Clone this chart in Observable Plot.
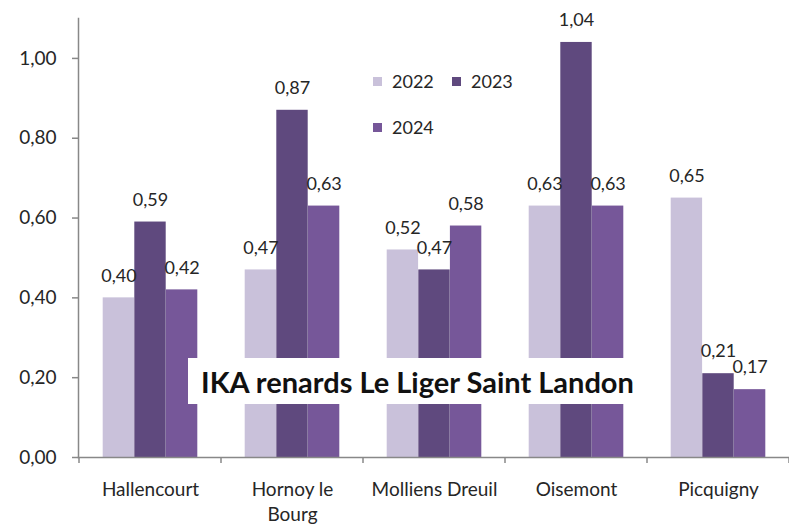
<!DOCTYPE html>
<html>
<head>
<meta charset="utf-8">
<script src="https://cdn.jsdelivr.net/npm/d3@7"></script>
<script src="https://cdn.jsdelivr.net/npm/@observablehq/plot@0.6"></script>
<style>
  html, body { margin: 0; padding: 0; background: white; }
  #wrap { position: relative; width: 789px; height: 524px; font-family: Lato, sans-serif; color: #262626; }
  #legend { position: absolute; left: 0; top: 0; }
  .li { position: absolute; display: flex; align-items: center; font-size: 18px; }
  .sw { width: 9px; height: 9px; margin-right: 10px; }
  #title { position: absolute; left: 188px; top: 358px; width: 459px; height: 46px; background: white;
           display: flex; align-items: center; justify-content: center; font-weight: bold; font-size: 29px; color: #111; }
</style>
</head>
<body>
<div id="wrap"></div>
<script>
const categories = ["Hallencourt", "Hornoy le Bourg", "Molliens Dreuil", "Oisemont", "Picquigny"];
const categoryLabels = ["Hallencourt", "Hornoy le\nBourg", "Molliens Dreuil", "Oisemont", "Picquigny"];
const years = ["2022", "2023", "2024"];
const values2022 = [0.40, 0.47, 0.52, 0.63, 0.65];
const values2023 = [0.59, 0.87, 0.47, 1.04, 0.21];
const values2024 = [0.42, 0.63, 0.58, 0.63, 0.17];
const yTicks = [0, 0.2, 0.4, 0.6, 0.8, 1.0];
const colors = ["#c9c1da", "#5f497e", "#765799"];
const titleText = "IKA renards Le Liger Saint Landon";

const seriesValues = [values2022, values2023, values2024];
const fmt = v => v.toFixed(2).replace(".", ",");
const labelOf = new Map(categories.map((c, i) => [c, categoryLabels[i]]));

const W = 789, H = 524, ML = 78, MR = 0, MT = 18, MB = 67;
const bw = (W - ML - MR) / categories.length;
const barW = 31.6;
const outer = (bw - 3 * barW) / 2;

const barMarks = [];
const textMarks = [];
years.forEach((yr, k) => {
  const rows = categories.map((c, i) => ({cat: c, year: yr, value: seriesValues[k][i]}));
  const left = outer + k * barW;
  const right = bw - left - barW;
  barMarks.push(Plot.barY(rows, {x: "cat", y: "value", fill: colors[k], insetLeft: left, insetRight: right}));
  textMarks.push(Plot.text(rows, {x: "cat", y: "value", text: d => fmt(d.value), dx: (k - 1) * barW, dy: -22,
    lineAnchor: "middle", fontSize: 18, fill: "#262626"}));
});

const boundaryTicks = (index, scales) => {
  const x = scales.x, y = scales.y;
  const b = typeof x.bandwidth === "function" ? x.bandwidth() : x.bandwidth;
  const g = d3.create("svg:g").attr("stroke", "#888").attr("stroke-width", 1.5);
  const xs = categories.map(c => x(c)).concat([x(categories[categories.length - 1]) + b]);
  const y0 = y(0);
  xs.forEach(px => g.append("line").attr("x1", px).attr("x2", px).attr("y1", y0).attr("y2", y0 + 6));
  return g.node();
};

const chart = Plot.plot({
  width: W, height: H,
  marginLeft: ML, marginRight: MR, marginTop: MT, marginBottom: MB,
  style: {fontFamily: "Lato, sans-serif", fontSize: "18px", color: "#262626", background: "white", overflow: "visible"},
  x: {domain: categories, padding: 0, axis: null, label: null},
  y: {domain: [0, 1.1], axis: null, label: null},
  marks: [
    ...barMarks,
    Plot.frame({anchor: "left", stroke: "#888", strokeWidth: 1.5}),
    Plot.frame({anchor: "bottom", stroke: "#888", strokeWidth: 1.5}),
    Plot.axisY({ticks: yTicks, tickFormat: fmt, tickSize: 6, tickPadding: 16, stroke: "#888", strokeWidth: 1.5,
      fontSize: 19, fill: "#262626", label: null}),
    Plot.axisX({tickSize: 0, tickPadding: 21, tickFormat: d => labelOf.get(d), lineHeight: 1.3,
      fontSize: 19, fill: "#262626", lineAnchor: "top", label: null}),
    boundaryTicks,
    ...textMarks
  ]
});

const wrap = document.getElementById("wrap");
wrap.appendChild(chart);

const legendPos = [[373, 70], [452, 70], [373, 116]];
const legend = document.createElement("div");
legend.id = "legend";
years.forEach((yr, k) => {
  const item = document.createElement("div");
  item.className = "li";
  item.style.left = legendPos[k][0] + "px";
  item.style.top = legendPos[k][1] + "px";
  item.innerHTML = `<span class="sw" style="background:${colors[k]}"></span><span>${yr}</span>`;
  legend.appendChild(item);
});
wrap.appendChild(legend);

const title = document.createElement("div");
title.id = "title";
title.textContent = titleText;
wrap.appendChild(title);
</script>
</body>
</html>
